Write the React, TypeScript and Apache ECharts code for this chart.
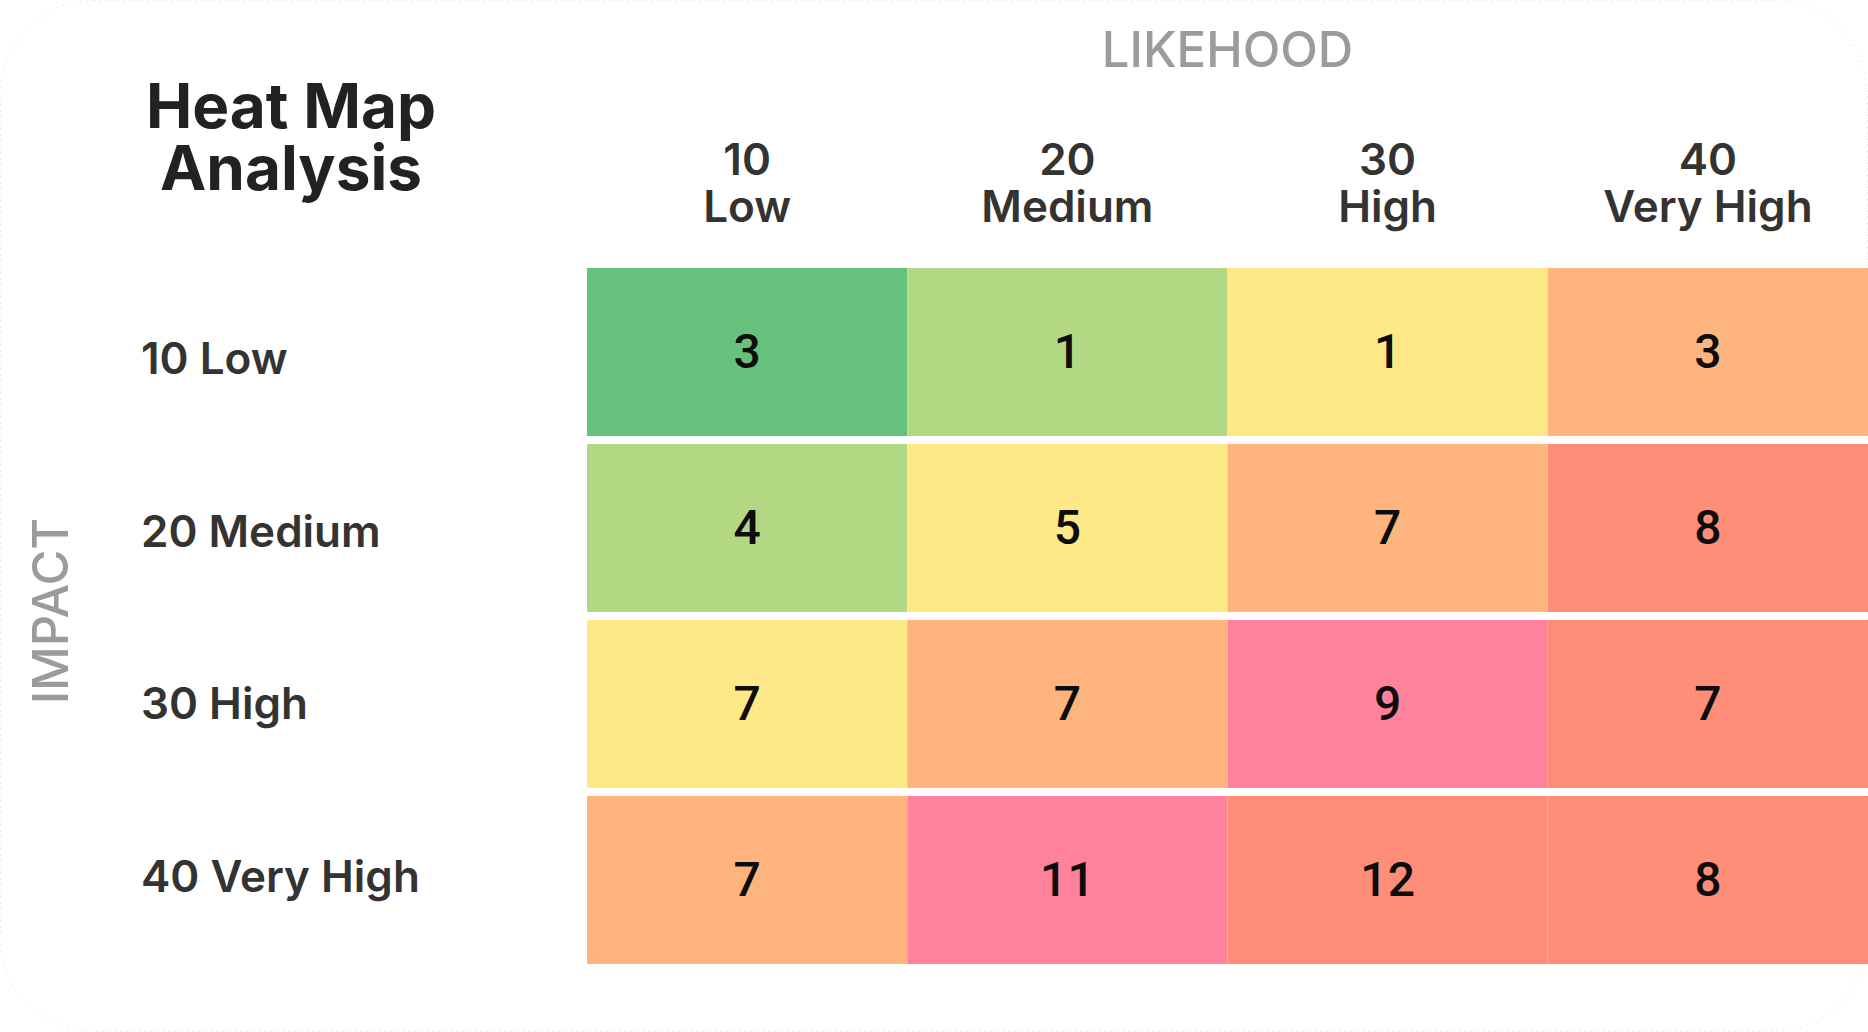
import React, { useEffect, useRef } from "react";
import * as echarts from "echarts";

// ---- data ----
const likelihoodLevels = [10, 20, 30, 40];
const likelihoodNames = ["Low", "Medium", "High", "Very High"];
const impactLevels = [10, 20, 30, 40];
const impactNames = ["Low", "Medium", "High", "Very High"];

// counts[impactIndex][likelihoodIndex]
const countsLow = [3, 1, 1, 3];
const countsMedium = [4, 5, 7, 8];
const countsHigh = [7, 7, 9, 7];
const countsVeryHigh = [7, 11, 12, 8];

// risk band for each cell (index into palette)
const riskLow = [0, 1, 2, 3];
const riskMedium = [1, 2, 3, 4];
const riskHigh = [2, 3, 5, 4];
const riskVeryHigh = [3, 5, 4, 4];

const riskPalette = ["#66C17D", "#B3D883", "#FEE888", "#FDB47F", "#FF8E79", "#FF819C"];

const xCategories = likelihoodLevels.map((v, i) => `${v}\n${likelihoodNames[i]}`);
const yCategories = impactLevels.map((v, i) => `${v} ${impactNames[i]}`);
const countRows = [countsLow, countsMedium, countsHigh, countsVeryHigh];
const riskRows = [riskLow, riskMedium, riskHigh, riskVeryHigh];

const cellData: number[][] = [];
countRows.forEach((row, yi) => {
  row.forEach((v, xi) => {
    cellData.push([xi, yi, v, riskRows[yi][xi]]);
  });
});

const W = 1868;
const H = 1032;
const ROW_GAP = 8;

export default function App() {
  const ref = useRef<HTMLDivElement>(null);
  useEffect(() => {
    if (!ref.current) return;
    const chart = echarts.init(ref.current, undefined, { renderer: "svg" });
    chart.setOption({
      animation: false,
      backgroundColor: "#ffffff",
      grid: [
        { left: 587, right: 0, top: 264, bottom: 64, containLabel: false },
        { left: 587, right: 0, top: 272, bottom: 70, containLabel: false },
      ],
      graphic: [
        {
          type: "rect",
          z: -10,
          silent: true,
          shape: { x: 0.5, y: 0.5, width: W - 1, height: H - 1, r: 93 },
          style: { fill: "none", stroke: "#d9d9d9", lineWidth: 1, lineDash: [1, 5] },
        },
        {
          type: "text",
          x: 291,
          y: 136,
          silent: true,
          style: {
            text: "Heat Map\nAnalysis",
            align: "center",
            verticalAlign: "middle",
            fontFamily: "Inter",
            fontWeight: 700,
            fontSize: 62,
            lineHeight: 62,
            fill: "#222222",
          },
        },
      ],
      xAxis: [
        {
          type: "category",
          gridIndex: 0,
          position: "top",
          data: xCategories,
          axisLine: { show: false },
          axisTick: { show: false },
          splitLine: { show: false },
          axisLabel: {
            interval: 0,
            margin: 35,
            fontFamily: "Inter",
            fontWeight: 600,
            fontSize: 44,
            lineHeight: 47,
            color: "#353331",
          },
          name: "LIKEHOOD",
          nameLocation: "middle",
          nameGap: 190,
          nameTextStyle: {
            fontFamily: "Inter",
            fontWeight: 500,
            fontSize: 49,
            color: "#9b9b9b",
          },
        },
        {
          type: "category",
          gridIndex: 1,
          show: false,
          data: xCategories,
        },
      ],
      yAxis: [
        {
          type: "category",
          gridIndex: 0,
          inverse: true,
          data: yCategories,
          axisLine: { show: false },
          axisTick: { show: false },
          splitLine: { show: false },
          axisLabel: { show: false },
          name: "IMPACT",
          nameLocation: "middle",
          nameRotate: 90,
          nameGap: 512,
          nameTextStyle: {
            fontFamily: "Inter",
            fontWeight: 500,
            fontSize: 49,
            color: "#9b9b9b",
            padding: [0, 0, 0, 10],
          },
        },
        {
          type: "category",
          gridIndex: 1,
          inverse: true,
          data: yCategories,
          axisLine: { show: false },
          axisTick: { show: false },
          splitLine: { show: false },
          axisLabel: {
            interval: 0,
            align: "left",
            margin: 446,
            fontFamily: "Inter",
            fontWeight: 600,
            fontSize: 44,
            color: "#353331",
          },
        },
      ],
      series: [
        {
          type: "custom",
          xAxisIndex: 0,
          yAxisIndex: 0,
          encode: { x: 0, y: 1 },
          data: cellData,
          renderItem: (params: any, api: any) => {
            const c = api.coord([api.value(0), api.value(1)]);
            const s = api.size([1, 1]);
            const level = api.value(3) as number;
            return {
              type: "group",
              children: [
                {
                  type: "rect",
                  shape: {
                    x: c[0] - s[0] / 2,
                    y: c[1] - s[1] / 2 + ROW_GAP / 2,
                    width: s[0],
                    height: s[1] - ROW_GAP,
                  },
                  style: { fill: riskPalette[level] },
                },
                {
                  type: "text",
                  x: c[0],
                  y: c[1] - 1,
                  style: {
                    text: String(api.value(2)),
                    align: "center",
                    verticalAlign: "middle",
                    fontFamily: "Roboto",
                    fontWeight: 500,
                    fontSize: 48,
                    fill: "#0d0d0d",
                  },
                },
              ],
            };
          },
        },
      ],
    });
    return () => chart.dispose();
  }, []);
  return (
    <div
      ref={ref}
      style={{ position: "fixed", left: 0, top: 0, width: W, height: H }}
    />
  );
}
